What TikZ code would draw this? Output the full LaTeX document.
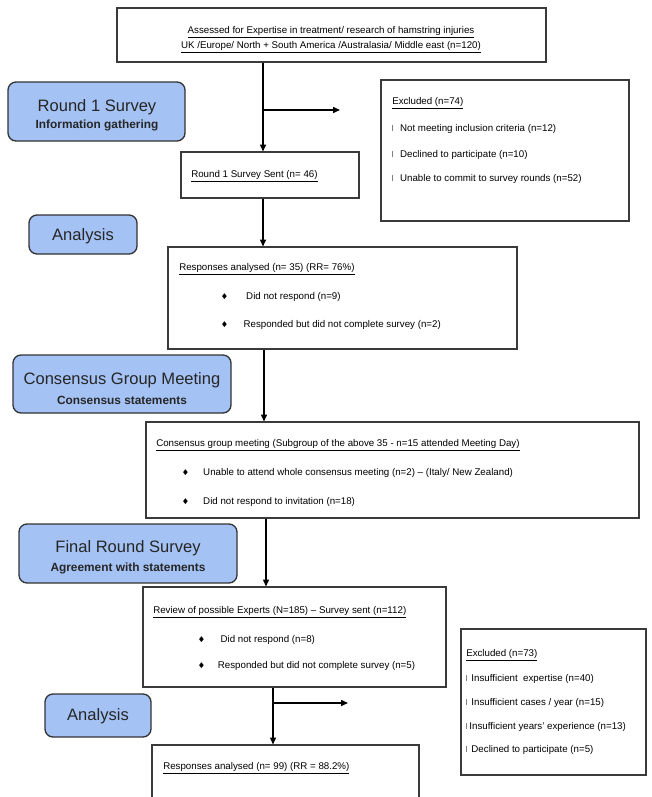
\documentclass[tikz,border=0pt]{standalone}
\usepackage{amssymb}
\usepackage{fontspec}
\setmainfont{Liberation Sans}
\usepackage{tikz}
\usetikzlibrary{arrows.meta, calc, fit}
\definecolor{phaseblue}{HTML}{A4C2F4}
\definecolor{boxline}{HTML}{3A3A3A}
\newcommand{\dmd}{\raisebox{0.4pt}{\fontsize{5}{5}\selectfont$\blacklozenge$}}
\newcommand{\gbar}{\textcolor{gray}{\rule[0.3pt]{0.9pt}{4.5pt}}}

\begin{document}
\begin{tikzpicture}[x=0.75pt, y=-0.75pt,
  wbox/.style={draw=boxline, line width=0.8pt, fill=white, inner sep=0pt},
  phase/.style={draw=black!80, line width=1pt, fill=phaseblue, rounded corners=6pt, inner sep=0pt},
  txt/.style={anchor=west, inner sep=0pt, font=\fontsize{7.3}{9}\selectfont},
  ctxt/.style={inner sep=0pt, font=\fontsize{7.3}{9}\selectfont},
  bigtxt/.style={inner sep=0pt, font=\fontsize{12.4}{14}\selectfont, text=black!85},
  subtxt/.style={inner sep=0pt, font=\fontsize{8.9}{11}\selectfont\bfseries, text=black!85},
  arr/.style={line width=1pt, -{Triangle[length=5.2pt, width=4.5pt]}},
  ln/.style={line width=1pt}]
\useasboundingbox (0,0) rectangle (652,797);
\clip (0,0) rectangle (652,797);

% phase labels on the left
\node[phase, fit={(8,82) (185,141)}] (r1blue) {};
\node[bigtxt] (r1blueA) at (97,107) {Round 1 Survey};
\node[subtxt] (r1blueB) at (97,125) {Information gathering};
\node[phase, fit={(29,215) (137,254)}] (ana1) {};
\node[bigtxt] (ana1A) at (83,236) {Analysis};
\node[phase, fit={(13,355) (231,413)}] (cgblue) {};
\node[bigtxt] (cgblueA) at (122,380) {Consensus Group Meeting};
\node[subtxt] (cgblueB) at (122,400) {Consensus statements};
\node[phase, fit={(19,524) (237,583)}] (frblue) {};
\node[bigtxt] (frblueA) at (128,548) {Final Round Survey};
\node[subtxt] (frblueB) at (128,568) {Agreement with statements};
\node[phase, fit={(45,694) (151,737)}] (ana2) {};
\node[bigtxt] (ana2A) at (98,716) {Analysis};

% flow boxes
\node[wbox, fit={(117,8) (546,62)}] (assess) {};
\node[ctxt] (assessA) at (331,32) {\underline{Assessed for Expertise in treatment/ research of hamstring injuries}};
\node[ctxt] (assessB) at (331,47) {\underline{UK /Europe/ North + South America /Australasia/ Middle east (n=120)}};

\node[wbox, fit={(181,152) (359,198)}] (r1sent) {};
\node[txt] (r1sentA) at (191,176) {\underline{Round 1 Survey Sent (n= 46)}};

\node[wbox, fit={(381,80) (629,221)}] (excl1) {};
\node[txt] (excl1A) at (392,103) {\underline{Excluded (n=74)}};
\node[txt] (excl1B) at (392,129) {\gbar\hspace{5pt}Not meeting inclusion criteria (n=12)};
\node[txt] (excl1C) at (392,155) {\gbar\hspace{5pt}Declined to participate (n=10)};
\node[txt] (excl1D) at (392,179) {\gbar\hspace{5pt}Unable to commit to survey rounds (n=52)};

\node[wbox, fit={(168,247) (517,349)}] (resp1) {};
\node[txt] (resp1A) at (179,269) {\underline{Responses analysed (n= 35) (RR= 76\%)}};
\node[txt] (resp1B) at (221,297) {\dmd\hspace{14pt}Did not respond (n=9)};
\node[txt] (resp1C) at (221,325) {\dmd\hspace{12pt}Responded but did not complete survey (n=2)};

\node[wbox, fit={(146,422) (639,518)}] (cgm) {};
\node[txt] (cgmA) at (156,445) {\underline{Consensus group meeting (Subgroup of the above 35 - n=15 attended Meeting Day)}};
\node[txt] (cgmB) at (182,473) {\dmd\hspace{11pt}Unable to attend whole consensus meeting (n=2) -- (Italy/ New Zealand)};
\node[txt] (cgmC) at (182,502) {\dmd\hspace{11pt}Did not respond to invitation (n=18)};

\node[wbox, fit={(143,587) (446,687)}] (review) {};
\node[txt] (reviewA) at (153,612) {\underline{Review of possible Experts (N=185) -- Survey sent (n=112)}};
\node[txt] (reviewB) at (198,640) {\dmd\hspace{12pt}Did not respond (n=8)};
\node[txt] (reviewC) at (198,666) {\dmd\hspace{10pt}Responded but did not complete survey (n=5)};

\node[wbox, fit={(461,629) (646,775)}] (excl2) {};
\node[txt] (excl2A) at (466,655) {\underline{Excluded (n=73)}};
\node[txt] (excl2B) at (466,679) {\gbar\hspace{3pt}Insufficient\ \ expertise (n=40)};
\node[txt] (excl2C) at (466,703) {\gbar\hspace{3pt}Insufficient cases / year (n=15)};
\node[txt] (excl2D) at (466,727) {\gbar\hspace{1.5pt}Insufficient years’ experience (n=13)};
\node[txt] (excl2E) at (466,750) {\gbar\hspace{3pt}Declined to participate (n=5)};

\node[wbox, fit={(152,745) (419,830)}] (resp2) {};
\node[txt] (resp2A) at (163,768) {\underline{Responses analysed (n= 99) (RR = 88.2\%)}};

% connectors
\coordinate (br1) at (263,110);
\coordinate (br1end) at (340,110);
\draw[ln] (assess.south -| br1) -- (br1);
\draw[arr] (br1) -- (r1sent.north -| br1);
\draw[arr] (br1) -- (br1end);
\draw[arr] (r1sent.south -| br1) -- (resp1.north -| br1);
\coordinate (spine2) at (264,380);
\draw[arr] (resp1.south -| spine2) -- (cgm.north -| spine2);
\coordinate (spine3) at (266,550);
\draw[arr] (cgm.south -| spine3) -- (review.north -| spine3);
\coordinate (br2) at (273,703);
\coordinate (br2end) at (348,703);
\draw[arr] (review.south -| br2) -- (resp2.north -| br2);
\draw[arr] (br2) -- (br2end);
\end{tikzpicture}
\end{document}
